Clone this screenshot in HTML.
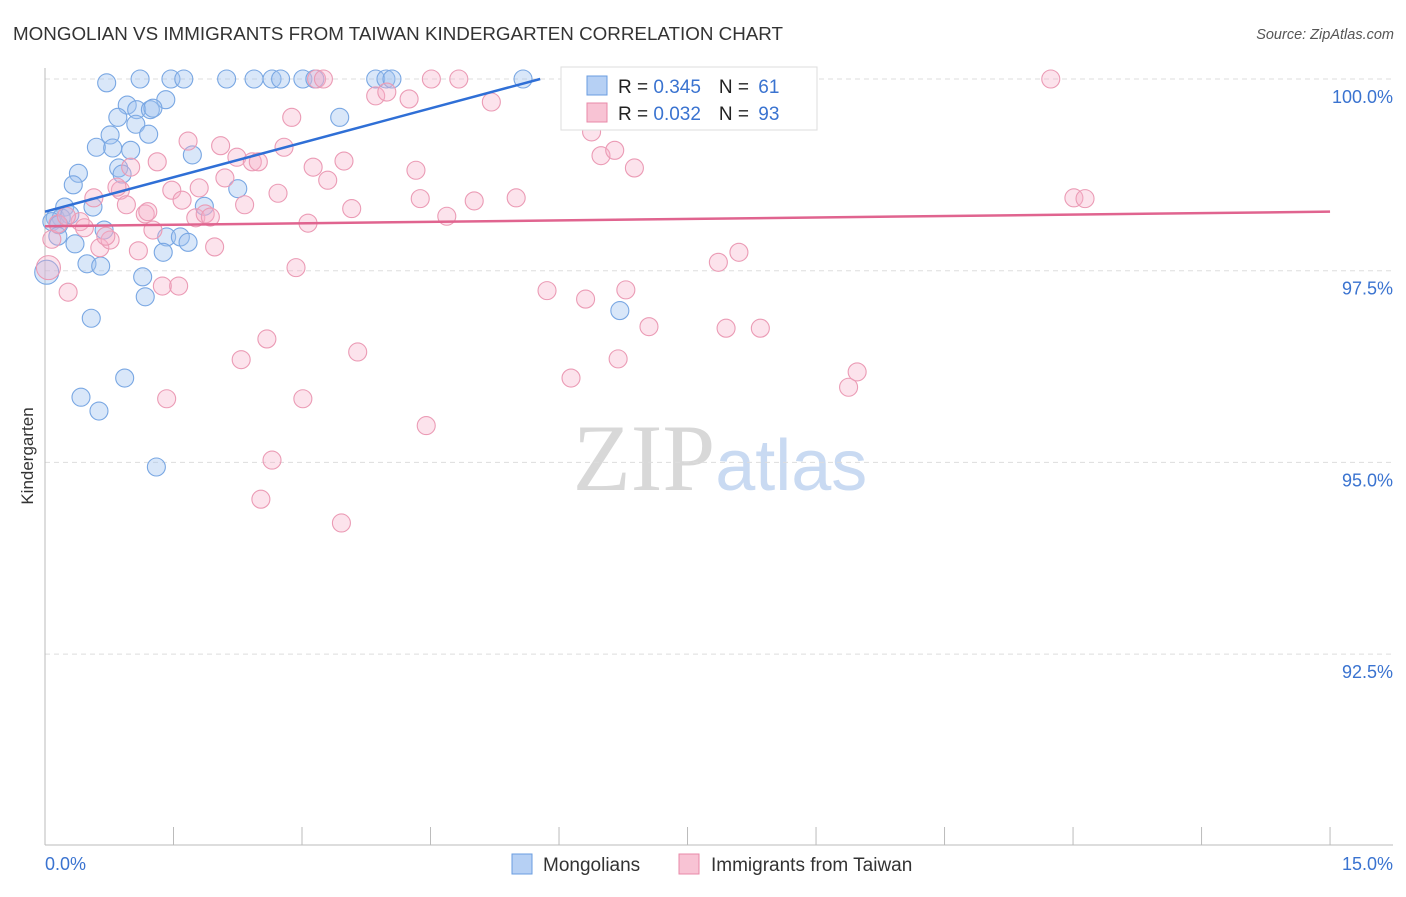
<!DOCTYPE html>
<html><head><meta charset="utf-8">
<style>
body{margin:0;background:#fff;font-family:"Liberation Sans",sans-serif;}
svg text{font-family:"Liberation Sans",sans-serif;}
</style></head>
<body>
<svg id="chart" width="1406" height="892" viewBox="0 0 1406 892" xmlns="http://www.w3.org/2000/svg">
<text x="13" y="40" font-size="18" fill="#333" textLength="770" lengthAdjust="spacingAndGlyphs">MONGOLIAN VS IMMIGRANTS FROM TAIWAN KINDERGARTEN CORRELATION CHART</text>
<text x="1394" y="39" font-size="14.5" fill="#555" text-anchor="end" font-style="italic">Source: ZipAtlas.com</text>
<text x="720" y="490" font-size="95" text-anchor="middle"><tspan fill="#d8d8d8" font-family="Liberation Serif">ZIP</tspan><tspan fill="#c9daf2" font-size="72">atlas</tspan></text>
<text transform="translate(33,456) rotate(-90)" font-size="17" fill="#333" text-anchor="middle">Kindergarten</text>
<g id="grid"></g>
<g id="pts"></g>
<g id="lines"></g>
<g>
<rect x="561" y="67" width="256" height="63" fill="#fff" stroke="#ddd"/>
<rect x="587" y="76" width="20" height="19" fill="#b6d0f4" stroke="#6a9de0"/>
<rect x="587" y="103" width="20" height="19" fill="#f8c3d4" stroke="#e88aa8"/>
<text x="618" y="93" font-size="19" fill="#222">R = <tspan fill="#3a73d0">0.345</tspan><tspan dx="18">N = </tspan><tspan fill="#3a73d0" dx="4">61</tspan></text>
<text x="618" y="120" font-size="19" fill="#222">R = <tspan fill="#3a73d0">0.032</tspan><tspan dx="18">N = </tspan><tspan fill="#3a73d0" dx="4">93</tspan></text>
</g>
<g>
<rect x="512" y="854" width="20" height="20" fill="#b6d0f4" stroke="#6a9de0"/>
<text x="543" y="871" font-size="19" fill="#333">Mongolians</text>
<rect x="679" y="854" width="20" height="20" fill="#f8c3d4" stroke="#e88aa8"/>
<text x="711" y="871" font-size="19" fill="#333">Immigrants from Taiwan</text>
</g>
</svg>
<script>
const xTicks=[0,1.5,3,4.5,6,7.5,9,10.5,12,13.5,15];
const yTicks=[100,97.5,95,92.5];
const yTickLabels=["100.0%","97.5%","95.0%","92.5%"];
const blueX=[0.72,1.11,1.47,1.62,2.12,2.44,2.65,2.75,3.01,3.15,3.86,3.98,4.05,5.58,1.41,0.96,1.07,1.23,1.26,0.85,1.06,0.76,1.21,0.60,0.79,1.00,1.72,3.44,0.86,0.39,0.90,0.33,2.25,0.56,1.86,0.23,0.12,0.19,0.29,0.08,0.16,0.69,1.42,1.58,1.67,0.35,0.15,1.38,0.49,0.65,1.14,0.02,1.17,0.54,6.71,0.93,0.42,0.63,1.30];
const blueY=[99.95,100,100,100,100,100,100,100,100,100,100,100,100,100,99.73,99.66,99.60,99.60,99.62,99.50,99.41,99.27,99.28,99.11,99.10,99.07,99.01,99.50,98.84,98.77,98.76,98.62,98.57,98.33,98.34,98.33,98.19,98.19,98.23,98.14,98.10,98.03,97.94,97.94,97.87,97.85,97.95,97.74,97.59,97.56,97.42,97.48,97.16,96.88,96.98,96.10,95.85,95.67,94.94];
const pinkX=[0.08,0.04,0.27,0.15,0.41,0.25,0.46,0.64,0.76,0.71,0.88,0.84,0.57,0.95,1.00,1.17,1.20,1.26,1.31,1.09,1.37,1.56,1.42,1.48,1.60,1.67,1.76,1.80,1.87,1.93,1.98,2.05,2.10,2.24,2.29,2.33,2.42,2.49,2.59,2.65,2.52,2.72,2.79,2.88,2.93,3.01,3.07,3.13,3.17,3.25,3.30,3.46,3.49,3.58,3.65,3.86,3.99,4.25,4.33,4.38,4.45,4.51,4.69,4.83,5.01,5.21,5.50,5.86,6.14,6.28,6.31,6.38,6.49,6.56,6.65,6.69,6.78,6.88,7.05,7.18,7.86,7.95,8.10,8.35,9.38,9.48,11.74,12.01,12.14];
const pinkY=[97.91,97.54,97.22,98.11,98.14,98.21,98.06,97.80,97.90,97.95,98.55,98.59,98.45,98.36,98.85,98.24,98.27,98.03,98.92,97.76,97.30,97.30,95.83,98.55,98.42,99.19,98.19,98.58,98.24,98.20,97.81,99.13,98.71,98.98,96.34,98.36,98.92,98.92,96.61,95.03,94.52,98.51,99.11,99.50,97.54,95.83,98.12,98.85,100,100,98.68,94.21,98.93,98.31,96.44,99.78,99.83,99.74,98.81,98.44,95.48,100,98.21,100,98.41,99.70,98.45,97.24,96.10,100,97.13,99.31,99.00,99.47,99.07,96.35,97.25,98.84,96.77,100,97.61,96.75,97.74,96.75,95.98,96.18,100,98.45,98.44];
const blueLine=[[0,98.27],[5.78,100]];
const pinkLine=[[0,98.08],[15,98.27]];
const NS="http://www.w3.org/2000/svg";
const X=v=>45+v*85.67;
const Y=v=>79+(100-v)*76.68;
function mk(tag,attrs,parent){const e=document.createElementNS(NS,tag);for(const k in attrs)e.setAttribute(k,attrs[k]);parent.appendChild(e);return e;}
const grid=document.getElementById('grid');
yTicks.forEach((t,i)=>{
 const l=mk('line',{x1:45,x2:1393,y1:Y(t),y2:Y(t),stroke:'#ddd','stroke-dasharray':'5,4'},grid);
 
 
 const tx=mk('text',{x:1393,y:Y(t)+24,'font-size':18,fill:'#3a73d0','text-anchor':'end'},grid);
 tx.textContent=yTickLabels[i];
 
 
});
const ax=mk('line',{x1:45,x2:45,y1:68,y2:845,stroke:'#bbb'},grid);


const bx=mk('line',{x1:45,x2:1393,y1:845,y2:845,stroke:'#bbb'},grid);


xTicks.forEach(t=>{
 const l=mk('line',{x1:X(t),x2:X(t),y1:827,y2:845,stroke:'#bbb'},grid);
 
 
});
const xl0=mk('text',{x:45,y:870,'font-size':18,fill:'#3a73d0'},grid);xl0.textContent='0.0%';


const xl1=mk('text',{x:1393,y:870,'font-size':18,fill:'#3a73d0','text-anchor':'end'},grid);xl1.textContent='15.0%';


const pts=document.getElementById('pts');
blueX.forEach((v,i)=>{
 const c=mk('circle',{cx:X(v),cy:Y(blueY[i]),r:(v<0.05?12:9),fill:'rgba(160,196,240,0.4)',stroke:'#79a7e3','stroke-width':1.1},pts);
 
 
});
pinkX.forEach((v,i)=>{
 const c=mk('circle',{cx:X(v),cy:Y(pinkY[i]),r:(v<0.05?12:9),fill:'rgba(246,176,200,0.35)',stroke:'#eb9bb5','stroke-width':1.1},pts);
 
 
});
const lines=document.getElementById('lines');
const bl=mk('line',{x1:X(blueLine[0][0]),y1:Y(blueLine[0][1]),x2:X(blueLine[1][0]),y2:Y(blueLine[1][1]),stroke:'#2f6fd6','stroke-width':2.5},lines);


const pl=mk('line',{x1:X(pinkLine[0][0]),y1:Y(pinkLine[0][1]),x2:X(pinkLine[1][0]),y2:Y(pinkLine[1][1]),stroke:'#e0648f','stroke-width':2.5},lines);


</script>
</body></html>
